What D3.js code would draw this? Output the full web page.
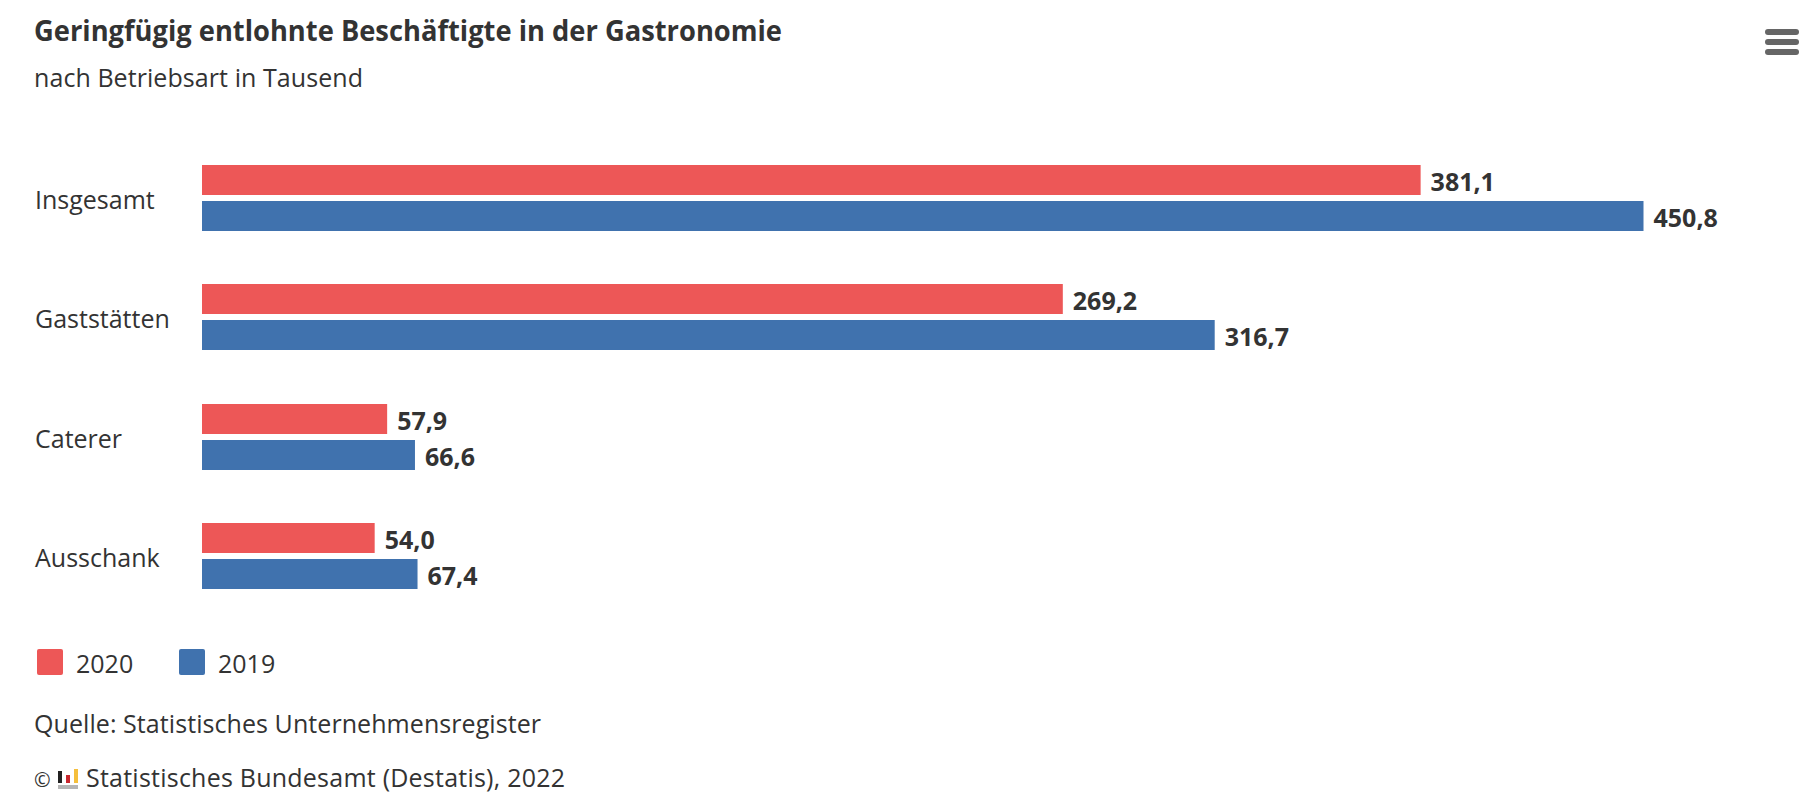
<!DOCTYPE html>
<html>
<head>
<meta charset="utf-8">
<script src="https://cdn.jsdelivr.net/npm/d3@7"></script>
<style>
  html, body { margin: 0; padding: 0; background: #fff; }
  svg { display: block; }
  text { font-family: "Open Sans", sans-serif; fill: #333; }
  .title { font-size: 28px; font-weight: 700; }
  .label { font-size: 25px; }
  .value { font-size: 25px; font-weight: 700; }
</style>
</head>
<body>
<div id="chart-area"><svg></svg></div>
<script>
const categories = ["Insgesamt", "Gaststätten", "Caterer", "Ausschank"];
const seriesNames = ["2020", "2019"];
const values2020 = [381.1, 269.2, 57.9, 54.0];
const values2019 = [450.8, 316.7, 66.6, 67.4];
const colors = ["#ed5757", "#4072ae"];

const chartSize = { width: 1818, height: 809 };
const margin = { left: 202, top: 165 };
const germanFormat = d3.formatLocale({ decimal: ",", thousands: ".", grouping: [3], currency: ["", " €"] }).format(".1f");

const x = d3.scaleLinear().domain([0, 450.8]).range([0, 1441.5]);
const y = d3.scaleBand().domain(categories).range([0, 424]).paddingInner(53.33 / 119.33);
const ySeries = d3.scaleBand().domain(seriesNames).range([0, 66]).paddingInner(6 / 36);

const svg = d3.select("#chart-area svg")
    .attr("width", chartSize.width)
    .attr("height", chartSize.height);

svg.append("text").attr("class", "title").attr("x", 34).attr("y", 41)
    .attr("textLength", 748).attr("lengthAdjust", "spacingAndGlyphs")
    .text("Geringfügig entlohnte Beschäftigte in der Gastronomie");
svg.append("text").attr("class", "label").attr("x", 34).attr("y", 87)
    .attr("textLength", 329)
    .text("nach Betriebsart in Tausend");

// menu icon
svg.append("g").selectAll("rect").data([0, 1, 2]).join("rect")
    .attr("x", 1765).attr("y", d => 29 + d * 10)
    .attr("width", 34).attr("height", 6).attr("rx", 3)
    .attr("fill", "#666");

const plot = svg.append("g").attr("transform", `translate(${margin.left},${margin.top})`);

const rows = plot.selectAll(".row").data(categories).join("g")
    .attr("class", "row")
    .attr("transform", d => `translate(0,${Math.round(y(d))})`);

rows.append("text")
    .attr("class", "label")
    .attr("x", -167)
    .attr("y", y.bandwidth() / 2 + 11)
    .text(d => d);

const bars = rows.selectAll(".bar")
    .data((d, i) => [values2020[i], values2019[i]].map((v, j) => ({ v, name: seriesNames[j], color: colors[j] })))
    .join("g")
    .attr("class", "bar")
    .attr("transform", d => `translate(0,${ySeries(d.name)})`);

bars.append("rect")
    .attr("width", d => x(d.v))
    .attr("height", ySeries.bandwidth())
    .attr("fill", d => d.color);

bars.append("text")
    .attr("class", "value")
    .attr("x", d => x(d.v) + 10)
    .attr("y", 26)
    .text(d => germanFormat(d.v));

// legend
const legendX = d3.scaleOrdinal().domain(seriesNames).range([37, 179]);
const legend = svg.append("g").selectAll("g").data(seriesNames).join("g")
    .attr("transform", d => `translate(${legendX(d)},649)`);

legend.append("rect").attr("width", 26).attr("height", 26).attr("rx", 2)
    .attr("fill", (d, i) => colors[i]);
legend.append("text").attr("class", "label").attr("x", 39).attr("y", 24).text(d => d);

svg.append("text").attr("class", "label").attr("x", 34).attr("y", 733)
    .attr("textLength", 507)
    .text("Quelle: Statistisches Unternehmensregister");

svg.append("text").attr("x", 34).attr("y", 787).style("font-size", "20px").text("©");
const logo = svg.append("g").attr("transform", "translate(58,769)");
logo.append("rect").attr("y", 2).attr("width", 4).attr("height", 12).attr("fill", "#222");
logo.append("rect").attr("x", 8).attr("y", 6).attr("width", 4).attr("height", 8).attr("fill", "#c8272e");
logo.append("rect").attr("x", 16).attr("width", 4).attr("height", 14).attr("fill", "#f5bf3c");
logo.append("rect").attr("y", 16).attr("width", 20).attr("height", 4).attr("fill", "#b5b5b5");

svg.append("text").attr("class", "label").attr("x", 86).attr("y", 787)
    .attr("textLength", 479)
    .text("Statistisches Bundesamt (Destatis), 2022");
</script>
</body>
</html>
